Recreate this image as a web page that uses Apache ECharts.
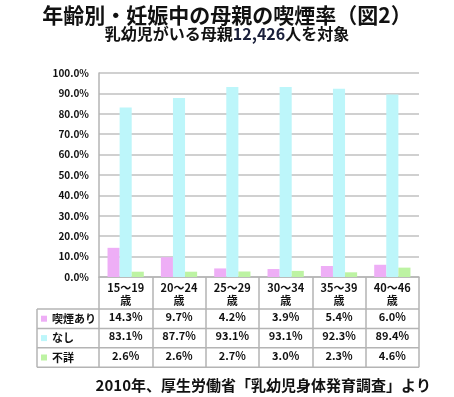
<!DOCTYPE html>
<html>
<head>
<meta charset="utf-8">
<script src="https://cdn.jsdelivr.net/npm/echarts@6/dist/echarts.min.js"></script>
<style>
  html, body { margin: 0; padding: 0; background: #fff; }
  #main { width: 454px; height: 397px; }
</style>
</head>
<body>
<div id="main"></div>
<script>
// data
const categories = ['15〜19歳', '20〜24歳', '25〜29歳', '30〜34歳', '35〜39歳', '40〜46歳'];
const seriesNames = ['喫煙あり', 'なし', '不詳'];
const smoking = [14.3, 9.7, 4.2, 3.9, 5.4, 6.0];
const nonSmoking = [83.1, 87.7, 93.1, 93.1, 92.3, 89.4];
const unknown = [2.6, 2.6, 2.7, 3.0, 2.3, 4.6];
const yMin = 0;
const yMax = 100;
const yStep = 10;

const colors = ['#EEAEF6', '#BDF6FA', '#BDF3A3'];
const font = '"Noto Sans CJK JP", sans-serif';
const lineColor = '#B4B4B4';

// layout
const gridLeft = 99, gridRight = 35, gridTop = 73, gridHeight = 204;
const tableTop = gridTop + gridHeight;
const headerH = 32, rowH = 19.4;
const tableLeft = 37;
const tableRight = 454 - gridRight;
const tableBottom = tableTop + headerH + rowH * 3;

const rows = [smoking, nonSmoking, unknown];

const graphics = [];
for (let i = 0; i < 4; i++) {
  const y = tableTop + headerH + rowH * i;
  graphics.push({
    type: 'line',
    shape: { x1: tableLeft, y1: y, x2: tableRight, y2: y },
    style: { stroke: lineColor, lineWidth: 1.5 }
  });
}
graphics.push({
  type: 'line',
  shape: { x1: tableLeft, y1: tableTop + headerH, x2: tableLeft, y2: tableBottom },
  style: { stroke: lineColor, lineWidth: 1.5 }
});

const option = {
  animation: false,
  textStyle: { fontFamily: font },
  title: [
    {
      text: '年齢別・妊娠中の母親の喫煙率（図2）',
      left: 'center',
      top: 0,
      textStyle: { fontSize: 21, fontWeight: 'bold', color: '#111', fontFamily: font }
    },
    {
      text: '乳幼児がいる母親{n|12,426}人を対象',
      left: 'center',
      top: 21,
      textStyle: {
        fontSize: 16, fontWeight: 'bold', color: '#111', fontFamily: font,
        rich: { n: { fontSize: 16, fontWeight: 'bold', color: '#1A1F3A', fontFamily: font } }
      }
    },
    {
      text: '2010年、厚生労働省「乳幼児身体発育調査」より',
      right: 18,
      top: 373,
      textStyle: { fontSize: 15, fontWeight: 'bold', color: '#111', fontFamily: font }
    }
  ],
  legend: {
    orient: 'vertical',
    left: 41,
    top: tableTop + headerH,
    itemWidth: 6,
    itemHeight: 6,
    itemGap: 0,
    icon: 'rect',
    padding: 0,
    data: seriesNames,
    textStyle: { fontSize: 11, fontWeight: 'bold', color: '#111', lineHeight: rowH, fontFamily: font }
  },
  grid: { left: gridLeft, right: gridRight, top: gridTop, height: gridHeight },
  xAxis: {
    type: 'category',
    data: categories,
    boundaryGap: true,
    axisLine: { show: true, lineStyle: { color: lineColor, width: 1.5 } },
    axisTick: { show: true, length: tableBottom - tableTop, lineStyle: { color: lineColor, width: 1.5 } },
    axisLabel: {
      interval: 0,
      margin: 4,
      formatter: function (value, idx) {
        const range = value.replace('歳', '');
        let s = '{h|' + range + '}\n{h|歳}';
        rows.forEach(function (r) {
          s += '\n{v|' + r[idx].toFixed(1) + '%}';
        });
        return s;
      },
      rich: {
        h: { fontSize: 11, fontWeight: 'bold', color: '#111', lineHeight: 13, fontFamily: font },
        v: { fontSize: 11, fontWeight: 'bold', color: '#111', lineHeight: rowH, fontFamily: font }
      }
    }
  },
  yAxis: {
    type: 'value',
    min: yMin,
    max: yMax,
    interval: yStep,
    axisLine: { show: true, lineStyle: { color: lineColor, width: 1.5 } },
    axisTick: { show: false },
    axisLabel: {
      margin: 10,
      fontSize: 10,
      fontWeight: 'bold',
      color: '#111',
      fontFamily: font,
      formatter: function (v) { return v.toFixed(1) + '%'; }
    },
    splitLine: { show: true, lineStyle: { color: '#C0C0C0', width: 1.5 } }
  },
  graphic: graphics,
  series: [
    { name: seriesNames[0], type: 'bar', data: smoking, itemStyle: { color: colors[0] }, barGap: '0%', barCategoryGap: '32%' },
    { name: seriesNames[1], type: 'bar', data: nonSmoking, itemStyle: { color: colors[1] }, barGap: '0%', barCategoryGap: '32%' },
    { name: seriesNames[2], type: 'bar', data: unknown, itemStyle: { color: colors[2] }, barGap: '0%', barCategoryGap: '32%' }
  ]
};

const chart = echarts.init(document.getElementById('main'));
chart.setOption(option);
</script>
</body>
</html>
